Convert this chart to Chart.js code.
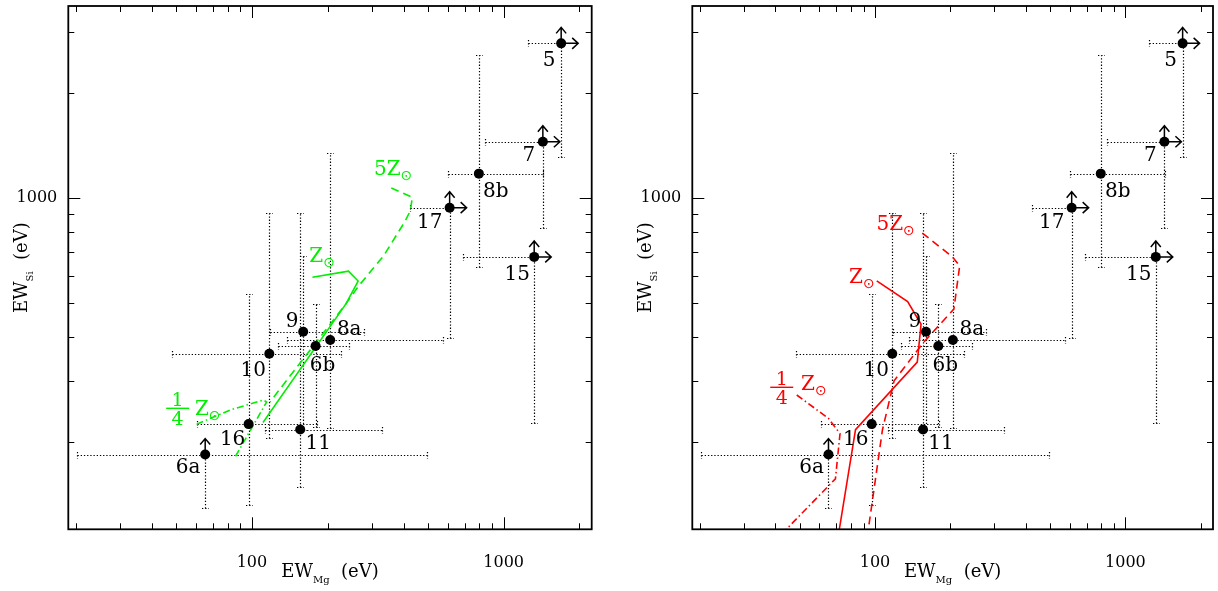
<!DOCTYPE html>
<html><head><meta charset="utf-8">
<script src="https://cdn.jsdelivr.net/npm/chart.js@4.4.0/dist/chart.umd.min.js"></script>
<style>
html,body{margin:0;padding:0;background:#fff;}
#wrap{position:relative;width:1218px;height:591px;background:#fff;}
canvas{position:absolute;top:0;}
#c1{left:0}
#c2{left:609px}
</style></head><body>
<div id="wrap"><canvas id="c1" width="609" height="591"></canvas><canvas id="c2" width="609" height="591"></canvas></div>
<script>
// ---------------- data ----------------
const pointLabels = ['5','7','8b','17','15','9','8a','6b','10','16','11','6a'];
const ewMg   = [1692, 1431, 797, 610, 1322, 159.8, 204.6, 179, 117.2, 97, 155.5, 65.2];
const ewSi   = [2783, 1453, 1177, 940, 679, 414, 392, 377, 358, 225, 217, 184];
const mgLow  = [1244, 844, 598.8, 424, 690.6, 117.9, 137.3, 126.8, 48.3, 60.6, 112.6, 20.2];
const mgHigh = [null, null, 1435, null, null, 278.5, 575, 243.8, 225.7, 180.7, 328.5, 495.5];
const siLow  = [1316, 820, 636.6, 397.5, 226, 216, 220, 220.8, 205.3, 131.5, 148.5, 129.3];
const siHigh = [null, null, 2577, null, null, 683.3, 1353, 497.7, 907.5, 531.6, 907.5, null];
const mgLowerLimit = [true, true, false, true, true, false, false, false, false, false, false, false];
const siLowerLimit = [true, true, false, true, true, false, false, false, false, false, false, true];

// green models (left panel)
const gSolidMg = [173.9, 241.7, 264.1, 236.2, 110.6];
const gSolidSi = [593.9, 618, 579, 497.6, 227.5];
const gDashMg  = [357.8, 433.5, 426, 404.5, 333.4, 265.6, 234.9, 117.9];
const gDashSi  = [1070, 1006, 922, 855.7, 684, 560.8, 495.3, 260.4];
const gDotMg   = [60.3, 81.8, 110.9, 114.4, 85.6];
const gDotSi   = [224.7, 246.9, 263.8, 260.4, 180.7];
// red models (right panel)
const rSolidMg = [101.6, 135, 152.7, 147.5, 83.6, 72];
const rSolidSi = [579.5, 505.5, 435.2, 339, 216.8, 112];
const rDashMg  = [154.4, 203, 217.8, 206.5, 155.5, 119.2, 107.1, 94];
const rDashSi  = [795, 681, 640, 481, 384.5, 299.5, 216.8, 112];
const rDotMg   = [48.7, 65.2, 72.5, 69.5, 44.1];
const rDotSi   = [272.7, 233.6, 211.3, 156.8, 112];

// ticks
const xTickValues = [20,30,40,50,60,70,80,90,100,200,300,400,500,600,700,800,900,1000,2000];
const xTickLabels = ['100','1000'];
const yTickValues = [200,300,400,500,600,700,800,900,1000,2000,3000];
const yTickLabels = ['1000'];

// ---------------- layout / style ----------------
const X_MIN = 18.64, X_MAX = 2237, Y_MIN = 112.3, Y_MAX = 3562;
const FONT = '"DejaVu Serif", "Liberation Serif", serif';
const SYM = '"DejaVu Sans", sans-serif';
const labelOffsets = [[-12,17],[-14,14],[17,18],[-20,15],[-17,18],[-11,-10],[19,-10],[7,20],[-16,17],[-16,16],[18,14],[-17,13]];

function xy(mg, si){ return mg.map((v,i)=>({x:v, y:si[i]})); }

function drawRich(ctx, parts, x, y, align){
  const w = parts.map(p => { ctx.font = p.size + 'px ' + (p.family||FONT); return ctx.measureText(p.t).width; });
  const total = w.reduce((a,b)=>a+b,0);
  let cx = align === 'center' ? x - total/2 : x;
  ctx.textAlign = 'left'; ctx.textBaseline = 'alphabetic';
  parts.forEach((p,i) => { ctx.font = p.size + 'px ' + (p.family||FONT); ctx.fillText(p.t, cx, y + (p.dy||0)); cx += w[i]; });
}

function zsun(ctx, prefix, x, y, color, symDy){
  ctx.fillStyle = color;
  drawRich(ctx, [{t: prefix + 'Z', size: 20}, {t: '\u2299', size: 14, family: SYM, dy: symDy}], x, y, 'left');
}
function quarter(ctx, cx, barY, color){
  ctx.fillStyle = color; ctx.strokeStyle = color; ctx.lineWidth = 1.4; ctx.setLineDash([]);
  ctx.beginPath(); ctx.moveTo(cx - 11.5, barY); ctx.lineTo(cx + 11.5, barY); ctx.stroke();
  ctx.font = '19px ' + FONT; ctx.textAlign = 'center'; ctx.textBaseline = 'alphabetic';
  ctx.fillText('1', cx, barY - 2);
  ctx.fillText('4', cx, barY + 16.5);
}

function makeDeco(cfg){
  return {
    id: 'deco_' + cfg.id,
    beforeDatasetsDraw(chart){
      const {ctx, chartArea: a, scales: {x, y}} = chart;
      ctx.save();
      ctx.beginPath(); ctx.rect(a.left, a.top, a.right - a.left, a.bottom - a.top); ctx.clip();
      ctx.strokeStyle = '#000'; ctx.lineWidth = 1.2; ctx.setLineDash([1.3, 1.9]);
      const C = 3.5;
      const seg = (x1,y1,x2,y2) => { ctx.beginPath(); ctx.moveTo(x1,y1); ctx.lineTo(x2,y2); ctx.stroke(); };
      for (let i = 0; i < ewMg.length; i++){
        const px = Math.round(x.getPixelForValue(ewMg[i])) + 0.5;
        const py = Math.round(y.getPixelForValue(ewSi[i])) + 0.5;
        const xl = Math.round(x.getPixelForValue(mgLow[i])) + 0.5;
        const xr = mgHigh[i] != null ? Math.round(x.getPixelForValue(mgHigh[i])) + 0.5 : px;
        seg(xl, py, xr, py);
        seg(xl, py - C, xl, py + C);
        if (mgHigh[i] != null) seg(xr, py - C, xr, py + C);
        const yb = Math.round(y.getPixelForValue(siLow[i])) + 0.5;
        const yt = siHigh[i] != null ? Math.round(y.getPixelForValue(siHigh[i])) + 0.5 : py;
        seg(px, yb, px, yt);
        seg(px - C, yb, px + C, yb);
        if (siHigh[i] != null) seg(px - C, yt, px + C, yt);
      }
      ctx.restore();
    },
    afterDatasetsDraw(chart){
      const {ctx, scales: {x, y}} = chart;
      ctx.save();
      // limit arrows
      ctx.strokeStyle = '#000'; ctx.lineWidth = 1.5; ctx.setLineDash([]);
      for (let i = 0; i < ewMg.length; i++){
        const px = x.getPixelForValue(ewMg[i]), py = y.getPixelForValue(ewSi[i]);
        if (mgLowerLimit[i]){
          const e = px + 17;
          ctx.beginPath(); ctx.moveTo(px, py); ctx.lineTo(e, py);
          ctx.moveTo(e - 6, py - 5.5); ctx.lineTo(e, py); ctx.lineTo(e - 6, py + 5.5); ctx.stroke();
        }
        if (siLowerLimit[i]){
          const e = py - 16;
          ctx.beginPath(); ctx.moveTo(px, py); ctx.lineTo(px, e);
          ctx.moveTo(px - 5, e + 6); ctx.lineTo(px, e); ctx.lineTo(px + 5, e + 6); ctx.stroke();
        }
      }
      // point labels
      ctx.fillStyle = '#000'; ctx.font = '20px ' + FONT; ctx.textAlign = 'center'; ctx.textBaseline = 'middle';
      for (let i = 0; i < ewMg.length; i++){
        const px = x.getPixelForValue(ewMg[i]), py = y.getPixelForValue(ewSi[i]);
        ctx.fillText(pointLabels[i], px + labelOffsets[i][0], py + labelOffsets[i][1]);
      }
      // model labels, anchored at the first vertex of each model curve
      const P = (mg, si) => [x.getPixelForValue(mg[0]), y.getPixelForValue(si[0])];
      const m = cfg.models;
      const L = cfg.lab;
      let p = P(m[1].mg, m[1].si); zsun(ctx, '5', p[0] + L.five[0], p[1] + L.five[1], cfg.color, 5);
      p = P(m[0].mg, m[0].si); zsun(ctx, '', p[0] + L.one[0], p[1] + L.one[1], cfg.color, 5);
      p = P(m[2].mg, m[2].si);
      quarter(ctx, p[0] + L.fr[0], p[1] + L.fr[1], cfg.color);
      zsun(ctx, '', p[0] + L.qz[0], p[1] + L.qz[1], cfg.color, 5);
      ctx.restore();
    },
    afterDraw(chart){
      const {ctx, chartArea: a, scales: {x, y}} = chart;
      ctx.save();
      ctx.strokeStyle = '#000'; ctx.setLineDash([]);
      ctx.lineWidth = 1;
      ctx.beginPath();
      xTickValues.forEach(v => {
        const px = Math.round(x.getPixelForValue(v)) + 0.5;
        const len = (v === 10 || v === 100 || v === 1000) ? 12 : 6;
        ctx.moveTo(px, a.bottom); ctx.lineTo(px, a.bottom - len);
        ctx.moveTo(px, a.top); ctx.lineTo(px, a.top + len);
      });
      yTickValues.forEach(v => {
        const py = Math.round(y.getPixelForValue(v)) + 0.5;
        const len = (v === 100 || v === 1000) ? 12 : 6;
        ctx.moveTo(a.left, py); ctx.lineTo(a.left + len, py);
        ctx.moveTo(a.right, py); ctx.lineTo(a.right - len, py);
      });
      ctx.stroke();
      ctx.lineWidth = 1.8;
      ctx.strokeRect(a.left, a.top, a.right - a.left, a.bottom - a.top);
      // axis titles
      ctx.fillStyle = '#000';
      drawRich(ctx, [{t:'EW', size:18}, {t:'Mg', size:10, dy:6}, {t:'  (eV)', size:18}], (a.left + a.right)/2, a.bottom + 48, 'center');
      ctx.translate(a.left - 41, (a.top + a.bottom)/2);
      ctx.rotate(-Math.PI/2);
      drawRich(ctx, [{t:'EW', size:18}, {t:'Si', size:10, dy:6}, {t:'  (eV)', size:18}], 0, 0, 'center');
      ctx.restore();
    }
  };
}

function makeChart(id, axisWidth, padRight, models, deco){
  const datasets = [{
    label: 'Knots', data: xy(ewMg, ewSi), pointRadius: 5, pointHoverRadius: 5,
    backgroundColor: '#000', borderColor: '#000', borderWidth: 0, showLine: false, order: 0
  }].concat(models.map(md => ({
    label: md.name, data: xy(md.mg, md.si), showLine: true, borderColor: md.color,
    backgroundColor: md.color, borderWidth: 1.6, borderDash: md.dash, pointRadius: 0,
    pointHoverRadius: 0, tension: 0, fill: false, clip: 0, order: 1
  })));
  return new Chart(document.getElementById(id), {
    type: 'scatter',
    data: { datasets },
    options: {
      responsive: false, animation: false, devicePixelRatio: 1, events: [],
      layout: { padding: { top: 6, right: padRight, left: 0, bottom: 0 } },
      plugins: { legend: { display: false }, tooltip: { enabled: false } },
      scales: {
        x: {
          type: 'logarithmic', position: 'bottom', min: X_MIN, max: X_MAX,
          afterBuildTicks: s => { s.ticks = xTickValues.map(v => ({ value: v })); },
          afterFit: s => { s.height = 61.7; s.paddingLeft = 0; s.paddingRight = 0; s.paddingTop = 0; s.paddingBottom = 0; },
          ticks: { autoSkip: false, maxRotation: 0, minRotation: 0, padding: 23.5, color: '#000',
                   font: { family: FONT, size: 16 },
                   callback: v => xTickLabels.includes(String(v)) ? String(v) : '' },
          grid: { display: false, drawTicks: false }, border: { display: false }, title: { display: false }
        },
        y: {
          type: 'logarithmic', position: 'left', min: Y_MIN, max: Y_MAX,
          afterBuildTicks: s => { s.ticks = yTickValues.map(v => ({ value: v })); },
          afterFit: s => { s.width = axisWidth; s.paddingLeft = 0; s.paddingRight = 0; s.paddingTop = 0; s.paddingBottom = 0; },
          ticks: { autoSkip: false, padding: 11, color: '#000',
                   font: { family: FONT, size: 16 },
                   callback: v => yTickLabels.includes(String(v)) ? String(v) : '' },
          grid: { display: false, drawTicks: false }, border: { display: false }, title: { display: false }
        }
      }
    },
    plugins: [makeDeco(deco)]
  });
}

const GREEN = '#00ee00', RED = '#ff0000';
const greenModels = [
  { name: 'Z\u2299',     mg: gSolidMg, si: gSolidSi, color: GREEN, dash: [] },
  { name: '5Z\u2299',    mg: gDashMg,  si: gDashSi,  color: GREEN, dash: [8, 5] },
  { name: '1/4 Z\u2299', mg: gDotMg,   si: gDotSi,   color: GREEN, dash: [7, 3, 1.5, 3] }
];
const redModels = [
  { name: 'Z\u2299',     mg: rSolidMg, si: rSolidSi, color: RED, dash: [] },
  { name: '5Z\u2299',    mg: rDashMg,  si: rDashSi,  color: RED, dash: [8, 5] },
  { name: '1/4 Z\u2299', mg: rDotMg,   si: rDotSi,   color: RED, dash: [7, 3, 1.5, 3] }
];

makeChart('c1', 68.3, 17.3, greenModels, {
  id: 'l', color: GREEN, models: greenModels,
  lab: { five: [-17.4, -13], one: [-3.2, -15.5], fr: [-19, -16], qz: [-1.7, -9.3] }
});
makeChart('c2', 83.3, 2.3, redModels, {
  id: 'r', color: RED, models: redModels,
  lab: { five: [-45.8, -3], one: [-27.7, 2.3], fr: [-15, -7.7], qz: [4.3, -5] }
});
</script>
</body></html>
